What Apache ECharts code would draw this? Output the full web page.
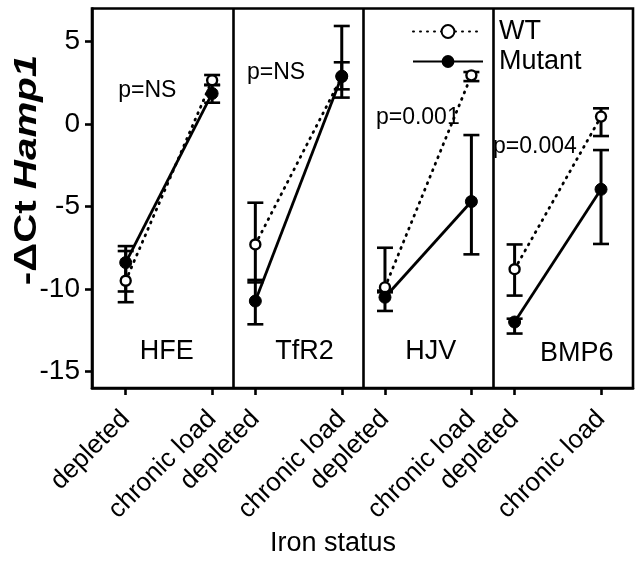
<!DOCTYPE html>
<html><head><meta charset="utf-8">
<script src="https://cdn.jsdelivr.net/npm/echarts@6/dist/echarts.min.js"></script>
<style>html,body{margin:0;padding:0;background:#fff}#c{width:643px;height:565px}</style>
</head><body><div id="c"></div>
<script>
// ---- data ----
const genes = ['HFE', 'TfR2', 'HJV', 'BMP6'];
const ironStatus = ['depleted', 'chronic load'];
const yTicks = [-15, -10, -5, 0, 5];
// per gene: [depleted, chronic load]
const wtMean  = [[-9.5, 2.65], [-7.3, 2.85], [-9.9, 2.95], [-8.8, 0.45]];
const wtLow   = [[-10.8, 2.35], [-9.6, 1.6], [-10.2, 2.6], [-10.4, -0.73]];
const wtHigh  = [[-7.7, 2.97], [-4.77, 5.94], [-7.5, 3.15], [-7.3, 0.95]];
const mutMean = [[-8.4, 1.85], [-10.73, 2.9], [-10.5, -4.7], [-12.0, -3.96]];
const mutLow  = [[-10.15, 1.29], [-12.14, 2.1], [-11.33, -7.9], [-12.7, -7.27]];
const mutHigh = [[-7.4, 2.38], [-9.45, 3.74], [-10.1, -0.67], [-11.8, -1.58]];
const pValues = ['p=NS', 'p=NS', 'p=0.001', 'p=0.004'];

// ---- layout (annotation anchors, relative to each panel) ----
const geneLabelAt = [[0.95, -13.8], [1.14, -13.8], [1.06, -13.8], [1.44, -13.9]];
const pLabelAt = [[0.5, 2.0], [0.48, 3.1], [0.76, 0.4], [0.47, -1.4]];

const FONT = '"Liberation Sans", Arial, Helvetica, sans-serif';
const xOf = (g, s) => g * 3 + s * 2;
const tickVals = [];
const tickText = {};
genes.forEach((g, gi) => ironStatus.forEach((s, si) => { tickVals.push(xOf(gi, si)); tickText[xOf(gi, si)] = s; }));

const chart = echarts.init(document.getElementById('c'));
const series = [];

function errSeries(name, lo, hi) {
  const data = [];
  genes.forEach((g, gi) => [0, 1].forEach(si => data.push([xOf(gi, si), lo[gi][si], hi[gi][si]])));
  return {
    type: 'custom', name: name, z: 2, silent: true,
    data: data,
    renderItem: function (params, api) {
      const x = api.value(0);
      const a = api.coord([x, api.value(1)]);
      const b = api.coord([x, api.value(2)]);
      const w = 8;
      const sv = { stroke: '#000', lineWidth: 3 };
      const sh = { stroke: '#000', lineWidth: 2.6 };
      return { type: 'group', children: [
        { type: 'line', shape: { x1: a[0], y1: a[1], x2: b[0], y2: b[1] }, style: sv },
        { type: 'line', shape: { x1: a[0] - w, y1: a[1], x2: a[0] + w, y2: a[1] }, style: sh },
        { type: 'line', shape: { x1: b[0] - w, y1: b[1], x2: b[0] + w, y2: b[1] }, style: sh }
      ]};
    }
  };
}
series.push(errSeries('WT err', wtLow, wtHigh));
series.push(errSeries('Mutant err', mutLow, mutHigh));

genes.forEach((g, gi) => {
  series.push({
    type: 'line', name: 'WT', z: 3,
    data: [[xOf(gi, 0), wtMean[gi][0]], [xOf(gi, 1), wtMean[gi][1]]],
    symbol: 'circle', symbolSize: 10,
    itemStyle: { color: '#fff', borderColor: '#000', borderWidth: 2.4 },
    lineStyle: { color: '#000', width: 2.8, type: [1, 6], cap: 'round' },
    animation: false,
    markLine: gi === 0 ? {
      silent: true, symbol: 'none', label: { show: false },
      lineStyle: { color: '#000', width: 2.6, type: 'solid' },
      data: [{ xAxis: 2.5 }, { xAxis: 5.5 }, { xAxis: 8.5 }]
    } : undefined
  });
});
genes.forEach((g, gi) => {
  series.push({
    type: 'line', name: 'Mutant', z: 4,
    data: [[xOf(gi, 0), mutMean[gi][0]], [xOf(gi, 1), mutMean[gi][1]]],
    symbol: 'circle', symbolSize: 12,
    itemStyle: { color: '#000', borderColor: '#000' },
    lineStyle: { color: '#000', width: 2.8, type: 'solid' },
    animation: false
  });
});

// text annotations (gene names, p-values), placed in data coordinates
const annData = [];
genes.forEach((g, gi) => {
  annData.push({ name: g, value: [gi * 3 + geneLabelAt[gi][0], geneLabelAt[gi][1], 27] });
  annData.push({ name: pValues[gi], value: [gi * 3 + pLabelAt[gi][0], pLabelAt[gi][1], 23] });
});
series.push({
  type: 'custom', name: 'ann', silent: true, z: 5,
  data: annData,
  renderItem: function (params, api) {
    const p = api.coord([api.value(0), api.value(1)]);
    return { type: 'text', x: p[0], y: p[1],
      style: { text: annData[params.dataIndex].name, fill: '#000', align: 'center', verticalAlign: 'middle',
        fontSize: api.value(2), fontFamily: FONT } };
  }
});

chart.setOption({
  animation: false,
  backgroundColor: '#fff',
  grid: { left: 92, right: 10, top: 8.5, bottom: 177, show: true, borderColor: '#000', borderWidth: 2.6, backgroundColor: 'transparent' },
  xAxis: {
    type: 'value', min: -0.78, max: 11.74,
    splitLine: { show: false },
    axisLine: { show: true, onZero: false, lineStyle: { color: '#000', width: 2.6 } },
    axisTick: { show: true, customValues: tickVals, length: 7, lineStyle: { color: '#000', width: 2.6 } },
    axisLabel: { customValues: tickVals, formatter: v => tickText[v] || '', rotate: 45, margin: 27,
      color: '#000', fontSize: 26, fontFamily: FONT }
  },
  yAxis: {
    type: 'value', min: -16, max: 7,
    splitLine: { show: false },
    axisLine: { show: true, onZero: false, lineStyle: { color: '#000', width: 2.6 } },
    axisTick: { show: true, customValues: yTicks, length: 7, lineStyle: { color: '#000', width: 2.6 } },
    axisLabel: { customValues: yTicks, margin: 12, color: '#000', fontSize: 28, fontFamily: FONT }
  },
  legend: {
    data: ['WT', 'Mutant'], orient: 'vertical', left: 412, top: 18, padding: 0,
    itemWidth: 70, itemHeight: 16, itemGap: 3,
    textStyle: { color: '#000', fontSize: 27, fontFamily: FONT, lineHeight: 27, padding: [0, 0, 0, 11] }
  },
  graphic: [
    { type: 'text', x: 27, y: 170, rotation: Math.PI / 2, scaleX: 1.3,
      style: { text: '{b|-ΔCt }{i|Hamp1}', align: 'center', verticalAlign: 'middle',
        rich: { b: { fontSize: 31, fontWeight: 'bold', fontFamily: FONT, fill: '#000' },
                i: { fontSize: 31, fontWeight: 'bold', fontStyle: 'italic', fontFamily: FONT, fill: '#000' } } } },
    { type: 'text', x: 333, y: 544,
      style: { text: 'Iron status', align: 'center', verticalAlign: 'middle', fontSize: 27, fontFamily: FONT, fill: '#000' } }
  ],
  series: series
});
</script></body></html>
